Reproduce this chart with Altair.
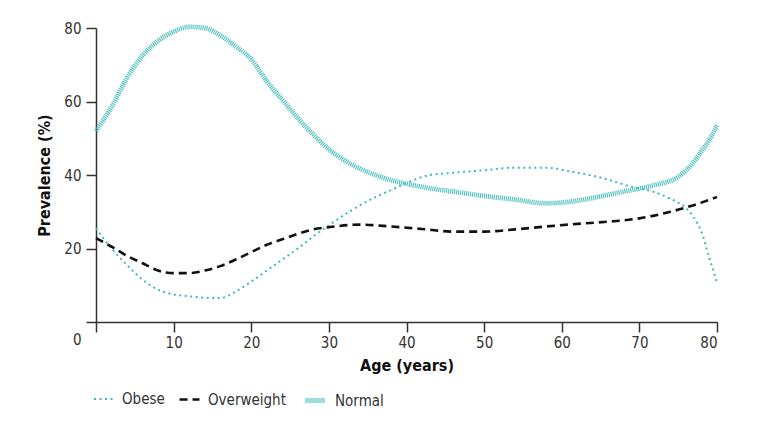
import altair as alt
import pandas as pd

normal_age = [0, 2, 4, 6, 8, 10, 12, 14, 16, 18, 20, 22, 24, 26, 28, 30, 32, 34, 36, 38, 40, 43, 46, 50, 54, 58, 62, 65, 68, 70, 72, 75, 77, 78, 79, 80]
normal_val = [52, 58.5, 66.5, 72.5, 76.5, 79, 80.3, 80, 78, 75, 71.5, 65.5, 60.5, 55.5, 51, 47, 44, 41.7, 40, 38.6, 37.6, 36.4, 35.5, 34.3, 33.3, 32.3, 33, 34.2, 35.5, 36.3, 37.3, 39.5, 43.5, 46.5, 49.5, 53.5]

obese_age = [0, 2, 4, 6, 8, 10, 12, 14, 16, 18, 20, 22, 24, 26, 28, 30, 33, 36, 38, 40, 43, 46, 50, 54, 58, 61, 65, 69, 72, 74, 76, 77, 78, 79, 80]
obese_val = [25.5, 20, 15.5, 11.5, 8.8, 7.5, 7, 6.6, 6.5, 8.3, 11, 14, 17, 20, 23.3, 26.3, 30.5, 34, 35.9, 37.8, 40, 40.6, 41.3, 42, 42, 41, 39.3, 36.8, 35.3, 33.5, 31, 28.5, 24.5, 17.5, 10.8]

over_age = [0, 2, 4, 6, 8, 10, 12, 14, 16, 18, 20, 22, 24, 26, 28, 30, 34, 38, 42, 46, 50, 54, 58, 62, 66, 70, 74, 77, 80]
over_val = [22.8, 20.5, 18, 16, 14, 13.3, 13.3, 14, 15.2, 17, 19, 21, 22.5, 24, 25.2, 25.8, 26.5, 26, 25.3, 24.6, 24.6, 25.2, 26, 26.7, 27.3, 28.2, 30, 31.8, 34]

series = ["Obese", "Overweight", "Normal"]

rows = []
for a, v in zip(obese_age, obese_val):
    rows.append({"age": a, "val": v, "series": "Obese"})
for a, v in zip(over_age, over_val):
    rows.append({"age": a, "val": v, "series": "Overweight"})
for a, v in zip(normal_age, normal_val):
    rows.append({"age": a, "val": v, "series": "Normal"})
df = pd.DataFrame(rows)

FONT = "DejaVu Sans Condensed, Liberation Sans Narrow, sans-serif"
TEAL = "#3DBABA"
LBL = 15
TTL = 16

legend_spec = dict(title=None, orient="none", direction="horizontal",
                   legendX=-3, legendY=360, symbolType="stroke", symbolSize=400,
                   labelFont=FONT, labelFontSize=LBL, labelColor="#333",
                   columnPadding=9, labelOffset=7, gridAlign="none")

chart = alt.Chart(df).mark_line(interpolate="monotone").encode(
    x=alt.X("age:Q", scale=alt.Scale(domain=[0, 80], nice=False),
            axis=alt.Axis(title="Age (years)", values=[0, 10, 20, 30, 40, 50, 60, 70, 80],
                          labelExpr="datum.value == 0 ? '' : datum.label",
                          grid=False, tickSize=10, labelPadding=3, titlePadding=7,
                          domainColor="#333", tickColor="#333", domainWidth=1.5, tickWidth=1.5,
                          labelFont=FONT, labelFontSize=LBL, labelColor="#333",
                          titleFont=FONT, titleFontSize=TTL, titleFontWeight="bold", titleColor="#111")),
    y=alt.Y("val:Q", scale=alt.Scale(domain=[0, 80], nice=False),
            axis=alt.Axis(title="Prevalence (%)", values=[0, 20, 40, 60, 80],
                          labelOffset={"condition": {"test": "datum.value == 0", "value": 17}, "value": 0},
                          grid=False, tickSize=10, labelPadding=5, titlePadding=11,
                          domainColor="#333", tickColor="#333", domainWidth=1.5, tickWidth=1.5,
                          labelFont=FONT, labelFontSize=LBL, labelColor="#333",
                          titleFont=FONT, titleFontSize=TTL, titleFontWeight="bold", titleColor="#111")),
    color=alt.Color("series:N", scale=alt.Scale(domain=series, range=[TEAL, "#111111", TEAL]),
                    legend=alt.Legend(**legend_spec)),
    strokeDash=alt.StrokeDash("series:N", scale=alt.Scale(domain=series, range=[[2, 3.5], [8, 5], [1, 1]]),
                              legend=alt.Legend(**legend_spec)),
    strokeWidth=alt.StrokeWidth("series:N", scale=alt.Scale(type="ordinal", domain=series, range=[2, 2.6, 4.8]),
                                legend=alt.Legend(**legend_spec)),
    detail="series:N",
).properties(
    width=621, height=294,
    autosize=alt.AutoSizeParams(type="none"),
    padding={"left": 88, "top": 20, "right": 46, "bottom": 91},
).configure_view(stroke=None)

chart.save("out.html", embed_options={"renderer": "svg", "actions": False})
